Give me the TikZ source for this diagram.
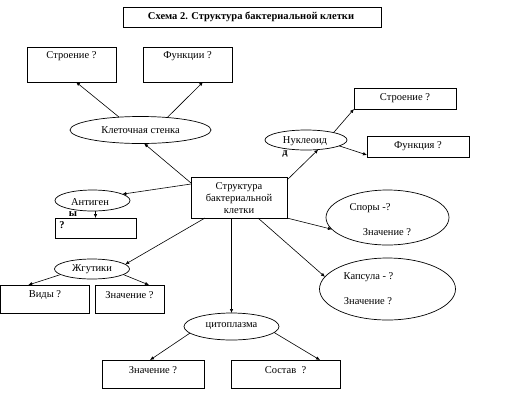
\documentclass[tikz,border=0pt]{standalone}
\usepackage{fontspec}
\setmainfont{Liberation Serif}
\usetikzlibrary{shapes.geometric,arrows.meta}
\begin{document}
\begin{tikzpicture}[x=1pt,y=-1pt,
  font=\fontsize{10.5}{12}\selectfont,
  box/.style={draw, line width=0.7pt, inner sep=0pt, outer sep=0pt},
  ell/.style={draw, ellipse, line width=0.7pt, inner sep=0pt, outer sep=0pt},
  arr/.style={line width=0.6pt, -{Latex[length=4pt,width=3.5pt]}},
  txt/.style={inner sep=0pt},
  bold/.style={inner sep=0pt, font=\fontsize{10.5}{12}\selectfont\bfseries}]
\useasboundingbox (0,0) rectangle (524,408);
% title
\node[box, minimum width=258pt, minimum height=20pt] (title) at (252,17) {};
\node[bold] (titletext) at (251,16.5) {Схема 2. Структура бактериальной клетки};
% boxes
\node[box, minimum width=89pt, minimum height=35pt] (sl) at (71.5,64.5) {};
\node[txt] (sltext) at (71.5,56.5) {Строение ?};
\node[box, minimum width=89pt, minimum height=35pt] (fl) at (187.5,64.5) {};
\node[txt] (fltext) at (187.5,56.5) {Функции ?};
\node[box, minimum width=102pt, minimum height=21pt] (sr) at (405,98.5) {};
\node[txt] (srtext) at (405,98.5) {Строение ?};
\node[box, minimum width=102pt, minimum height=21pt] (fr) at (418,146.5) {};
\node[txt] (frtext) at (418,146.5) {Функция ?};
\node[box, minimum width=96pt, minimum height=41pt] (c) at (239,197.5) {};
\node[txt, align=center] (ctext) at (239,198.5) {Структура\\бактериальной\\клетки};
\node[bold] (ytext) at (73,214.5) {ы};
\node[box, fill=white, minimum width=81pt, minimum height=20pt] (q) at (95.5,228) {};
\node[bold] (qtext) at (62,225.5) {?};
\node[box, minimum width=88.5pt, minimum height=28pt] (vid) at (44.75,299) {};
\node[txt] (vidtext) at (45,295) {Виды ?};
\node[box, minimum width=69pt, minimum height=28pt] (zn1) at (129.5,299) {};
\node[txt] (zn1text) at (129.5,295) {Значение ?};
\node[box, minimum width=102pt, minimum height=28pt] (zn2) at (153,374) {};
\node[txt] (zn2text) at (153,370) {Значение ?};
\node[box, minimum width=109pt, minimum height=28pt] (sost) at (285.5,374) {};
\node[txt] (sosttext) at (285.5,370) {Состав\ \ ?};
% ellipses
\node[ell, minimum width=141pt, minimum height=27pt] (ks) at (140.5,130) {Клеточная стенка};
\node[ell, minimum width=82pt, minimum height=20pt] (nuk) at (306,140) {};
\node[txt] (nuktext) at (305,141) {Нуклеоид};
\node[bold] (dtext) at (285,154) {д};
\node[ell, minimum width=75pt, minimum height=21pt] (ant) at (92.5,200.5) {};
\node[txt] (anttext) at (90,202) {Антиген};
\node[ell, minimum width=123pt, minimum height=55pt] (spory) at (387.5,217.5) {};
\node[txt] (sporytext) at (370,208) {Споры -?};
\node[txt] (sporyzn) at (387,232) {Значение ?};
\node[ell, minimum width=136pt, minimum height=62pt] (kaps) at (387.5,289) {};
\node[txt] (kapstext) at (368.5,277) {Капсула - ?};
\node[txt] (kapszn) at (368,301) {Значение ?};
\node[ell, minimum width=75pt, minimum height=20pt] (zhg) at (92,269) {Жгутики};
\node[ell, minimum width=95pt, minimum height=27pt] (cyt) at (231.5,326.5) {цитоплазма};
% connectors
\draw[arr] (ks.149) -- ([xshift=4.5pt]sl.south);
\draw[arr] (ks.25) -- ([xshift=15.5pt]fl.south);
\draw[arr] ([yshift=-6pt]c.north west) -- (ks.-75);
\draw[arr] ([yshift=-3pt]c.north east) -- (nuk.-38);
\draw[arr] (nuk.15) -- (sr.south west);
\draw[arr] (nuk.-10) -- ([yshift=2pt]fr.south west);
\draw[arr] ([yshift=-7pt]c.north west) -- (ant.12);
\draw[arr] (q.north |- ant.south) -- (q.north);
\draw[arr] (c.south east) -- (spory.192);
\draw[arr] ([xshift=19pt]c.south) -- (kaps.169);
\draw[arr] ([xshift=14pt]c.south west) -- (zhg.8);
\draw[arr] (zhg.190) -- ([xshift=-16.5pt]vid.north);
\draw[arr] (zhg.-10) -- ([xshift=19.5pt]zn1.north);
\draw[arr] (c.south -| cyt.north) -- (cyt.north);
\draw[arr] (cyt.189) -- ([xshift=-3pt]zn2.north);
\draw[arr] (cyt.-8) -- ([xshift=34.5pt]sost.north);
\end{tikzpicture}
\end{document}
